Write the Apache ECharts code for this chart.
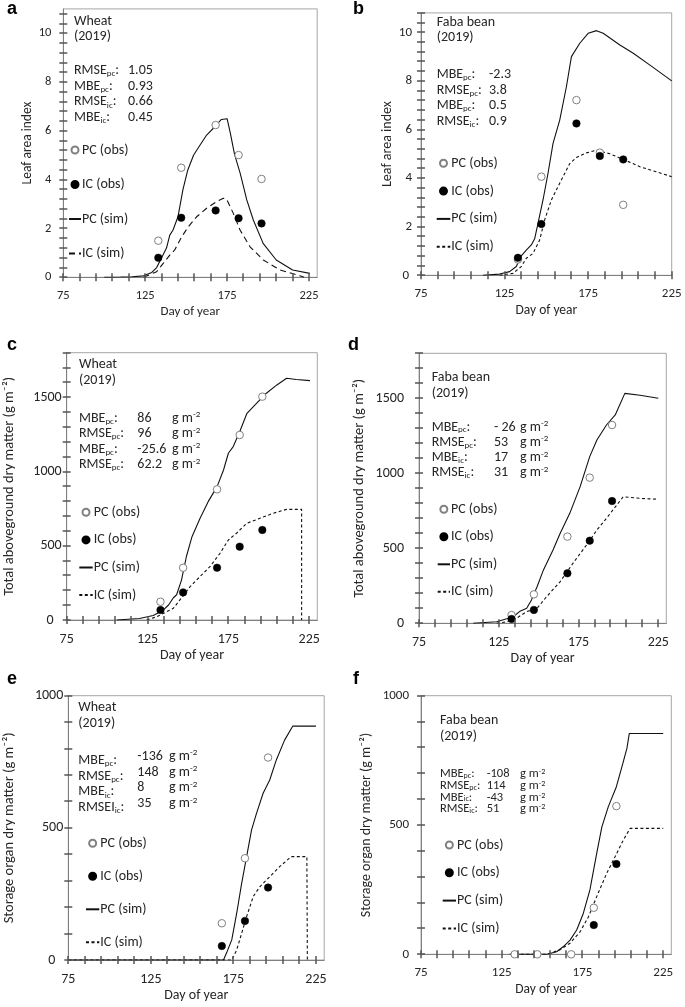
<!DOCTYPE html>
<html>
<head>
<meta charset="utf-8">
<script src="https://cdn.jsdelivr.net/npm/echarts@6/dist/echarts.min.js"></script>
<style>
  html, body { margin: 0; padding: 0; background: #fff; }
  #chart { width: 685px; height: 1007px; }
</style>
</head>
<body>
<div id="chart"></div>
<script>
// sampling days (day of year)
const obsDays = [133, 147, 168, 182, 196];
const lateDays = [168, 182, 196];
const lastDays = [182, 196];

// a - leaf area index, wheat
const laiWheatPcObs = [1.5, 4.49, 6.24, 5.01, 4.03];
const laiWheatIcObs = [0.8, 2.44, 2.74, 2.42, 2.21];
const laiWheatPcSim = [[100, 0], [110, 0.01], [117, 0.02], [124, 0.06], [129, 0.2], [132, 0.4], [135, 0.8], [138, 1.2],
  [140, 1.73], [142, 1.94], [145, 2.48], [148, 3.58], [151, 4.4], [154.5, 5.0], [158.5, 5.42], [162.5, 5.83],
  [167.5, 6.17], [171.5, 6.47], [175, 6.5], [177, 5.9], [179.5, 5.05], [183, 4.26], [187, 3.17], [191, 2.35],
  [197, 1.39], [205, 0.71], [215, 0.3], [225.5, 0.16]];
const laiWheatIcSim = [[124, 0], [132, 0.23], [136, 0.57], [140, 0.91], [143, 1.12], [147.3, 1.66], [151.3, 2.07],
  [156.4, 2.48], [162.5, 2.83], [168.6, 3.1], [172.7, 3.24], [174.7, 3.2], [178.8, 2.62], [182.9, 1.94],
  [189, 1.25], [197.1, 0.71], [207.3, 0.3], [219.5, 0.06], [222, 0]];

// b - leaf area index, faba bean
const laiFabaPcObs = [0.65, 4.06, 7.21, 5.05, 2.9];
const laiFabaIcObs = [0.72, 2.11, 6.25, 4.91, 4.77];
const laiFabaPcSim = [[112, 0], [122, 0.05], [128, 0.15], [132, 0.36], [135, 0.8], [138, 1.04], [141, 1.25], [143, 1.5],
  [145, 2.14], [148, 3.1], [151, 4.2], [154, 5.43], [158, 6.39], [162, 7.76], [165, 9.0], [170, 9.55], [175, 9.96],
  [180, 10.07], [184, 9.96], [194, 9.48], [202, 9.14], [212, 8.65], [225, 8.0]];
const laiFabaIcSim = [[122, 0], [130, 0.08], [135, 0.36], [138, 0.7], [142, 0.9], [146, 1.45], [149, 2.28], [153, 3.1],
  [158, 3.79], [164, 4.6], [168, 4.85], [174, 5.04], [180, 5.15], [188, 5.0], [196, 4.77], [206, 4.47], [225, 4.06]];

// c - total aboveground dry matter, wheat
const tdmWheatPcObs = [123, 352, 880, 1246, 1504];
const tdmWheatIcObs = [67, 186, 352, 494, 606];
const tdmWheatPcSim = [[106, 0], [120, 10], [128.5, 30], [132, 50], [135, 70], [138, 101], [141, 150], [143, 170],
  [146, 269], [149, 426], [152.5, 561], [157.5, 685], [162.5, 797], [168, 898], [172, 1010], [175, 1123], [178, 1168],
  [182, 1268], [186.5, 1392], [191.5, 1448], [198.5, 1527], [205, 1583], [211, 1628], [217, 1620], [225.5, 1612]];
const tdmWheatIcSim = [[124.5, 0], [130.7, 22], [136.8, 56], [141, 79], [145, 135], [151.3, 224], [157.4, 292],
  [163.6, 359], [169.8, 449], [175, 539], [180, 584], [186.3, 651], [194.5, 685], [202.8, 719], [211, 745],
  [220.3, 745], [220.3, 0]];

// d - total aboveground dry matter, faba bean
const tdmFabaPcObs = [55, 193, 578, 971, 1322];
const tdmFabaIcObs = [29, 89, 333, 551, 815];
const tdmFabaPcSim = [[109, 0], [123.7, 10], [130, 30], [134, 44], [138, 78], [142.5, 100], [145.5, 156], [149, 244],
  [153, 356], [159, 489], [163.5, 600], [169.5, 733], [176, 911], [182, 1111], [186.5, 1222], [192.5, 1322],
  [198, 1389], [204, 1533], [213.5, 1520], [225, 1500]];
const tdmFabaIcSim = [[123.7, 0], [130, 10], [136, 33], [142.5, 78], [149, 100], [155, 178], [163.5, 278],
  [171.5, 400], [180, 522], [186.5, 622], [192.5, 700], [203, 844], [213.5, 833], [225, 827]];

// e - storage organ dry matter, wheat
const sodmWheatPcObs = [139, 385, 766];
const sodmWheatIcObs = [53, 148, 274];
const sodmWheatPcSim = [[75, 0], [169, 0], [171, 29], [174, 76], [177, 177], [180, 290], [183, 391], [186, 492],
  [189, 555], [193, 631], [197, 681], [201, 757], [206, 832], [211, 885], [225, 885]];
const sodmWheatIcSim = [[75, 0], [174, 0], [177, 38], [180, 101], [183, 164], [187, 240], [191, 277], [197, 315],
  [203, 353], [210, 391], [219.5, 391], [219.8, 0]];

// f - storage organ dry matter, faba bean
const sodmFabaPcObs = [0, 0, 0, 180, 573];
const sodmFabaIcObs = [113, 349];
const sodmFabaPcSim = [[130, 0], [153, 0], [159, 10], [163, 29], [167.3, 55], [171.4, 94], [175.5, 158], [179.6, 249],
  [183.8, 390], [187, 493], [191, 571], [196, 648], [200, 738], [202.5, 796], [204, 854], [225, 854]];
const sodmFabaIcSim = [[130, 0], [153, 0], [161, 17], [167.3, 43], [173.5, 87], [178.7, 145], [183.8, 223], [190, 313],
  [196.2, 390], [200.3, 442], [204.5, 487], [225, 487]];

// axis labels and tick positions
const xLabels = [75, 125, 175, 225];
const xTicks = [75, 85, 95, 105, 115, 125, 135, 145, 155, 165, 175, 185, 195, 205, 215, 225];
const laiLabels = [0, 2, 4, 6, 8, 10];
const tdmLabels = [0, 500, 1000, 1500];
const sodmLabels = [0, 500, 1000];

const FONT = 'Carlito, Lato, sans-serif';
const TXT = '#262626';
const AXIS = '#808080';
const TICK = '#555555';

function pair(days, vals) { return days.map((d, i) => [d, vals[i]]); }
function steps(max, step) {
  const r = [];
  for (let k = 0; k * step <= max + 1e-9; k++) r.push(Math.round(k * step * 1000) / 1000);
  return r;
}
function lab(name, sub) { return '{t|' + name + '}{s|' + sub + '}{t|:}'; }
function unit() { return '{t|g m}{p|-2}'; }
function richStyle(fs, lh) {
  return {
    t: { fontSize: fs, lineHeight: lh, fontFamily: FONT, color: TXT },
    s: { fontSize: fs * 0.64, lineHeight: fs * 0.55, verticalAlign: 'bottom', fontFamily: FONT, color: TXT },
    p: { fontSize: fs * 0.64, lineHeight: fs * 0.6, verticalAlign: 'top', fontFamily: FONT, color: TXT }
  };
}
function textTop(base, lh, fs) { return base - lh / 2 - 0.33 * fs; }

const panels = [
  {
    letter: 'a', letterPos: [7, 0], grid: { left: 63.3, top: 8.9, width: 253.9, height: 268.4 },
    xMax: 230, yMax: 11, yStep: 0.4, yLabels: laiLabels, yName: 'Leaf area index', yNameGap: 28,
    labelFs: 12.5, nameFs: 13.5, yMargin: 12, zeroPad: 0, dash: [6, 4],
    pcObs: pair(obsDays, laiWheatPcObs), icObs: pair(obsDays, laiWheatIcObs), pcSim: laiWheatPcSim, icSim: laiWheatIcSim,
    crop: { text: 'Wheat', x: 74, base: 25.7, lh: 15 },
    stats: { x: 74, base: 75, lh: 15.8, fs: 14, vx: 128,
      labels: [lab('RMSE', 'pc'), lab('MBE', 'pc'), lab('RMSE', 'ic'), lab('MBE', 'ic')],
      values: ['1.05', '0.93', '0.66', '0.45'] },
    legend: { left: 68, top: 143, gap: 20.5, w: 12 }
  },
  {
    letter: 'b', letterPos: [353, 0], grid: { left: 421, top: 12.9, width: 250.7, height: 262.4 },
    xMax: 225, yMax: 10.8, yStep: 0.4, yLabels: laiLabels, yName: 'Leaf area index', yNameGap: 27,
    labelFs: 13, nameFs: 14, yMargin: 9, zeroPad: 3, dash: [3, 2.5],
    pcObs: pair(obsDays, laiFabaPcObs), icObs: pair(obsDays, laiFabaIcObs), pcSim: laiFabaPcSim, icSim: laiFabaIcSim,
    crop: { text: 'Faba bean', x: 436.7, base: 26.7, lh: 15.6 },
    stats: { x: 436.7, base: 79, lh: 15.7, fs: 14, vx: 489,
      labels: [lab('MBE', 'pc'), lab('RMSE', 'pc'), lab('MBE', 'pc'), lab('RMSE', 'ic')],
      values: ['-2.3', '3.8', '0.5', '0.9'] },
    legend: { left: 435.7, top: 156.3, gap: 13.8, w: 13.6 }
  },
  {
    letter: 'c', letterPos: [7, 336.4], grid: { left: 66.7, top: 352.7, width: 250.6, height: 267.3 },
    xMax: 230, yMax: 1800, yStep: 100, yLabels: tdmLabels, yName: 'Total aboveground dry matter (g m⁻²)', yNameGap: 49.7,
    labelFs: 14, nameFs: 14.5, yMargin: 5, zeroPad: 8, dash: [3, 2.5],
    pcObs: pair(obsDays, tdmWheatPcObs), icObs: pair(obsDays, tdmWheatIcObs), pcSim: tdmWheatPcSim, icSim: tdmWheatIcSim,
    crop: { text: 'Wheat', x: 79, base: 369.3, lh: 15.7 },
    stats: { x: 79, base: 422.7, lh: 15.5, fs: 14, vx: 137.3, ux: 172,
      labels: [lab('MBE', 'pc'), lab('RMSE', 'pc'), lab('MBE', 'pc'), lab('RMSE', 'pc')],
      values: ['86', '96', '-25.6', '62.2'] },
    legend: { left: 78.3, top: 505.3, gap: 13.6, w: 13.4 }
  },
  {
    letter: 'd', letterPos: [348, 336.4], grid: { left: 419, top: 353.3, width: 247.3, height: 270 },
    xMax: 230, yMax: 1800, yStep: 100, yLabels: tdmLabels, yName: 'Total aboveground dry matter (g m⁻²)', yNameGap: 52,
    labelFs: 14, nameFs: 14.5, yMargin: 15, zeroPad: 0, dash: [3, 2.5],
    pcObs: pair(obsDays, tdmFabaPcObs), icObs: pair(obsDays, tdmFabaIcObs), pcSim: tdmFabaPcSim, icSim: tdmFabaIcSim,
    crop: { text: 'Faba bean', x: 431.7, base: 382.3, lh: 16 },
    stats: { x: 431.7, base: 431.7, lh: 15.2, fs: 14, vx: 494, ux: 520,
      labels: [lab('MBE', 'pc'), lab('RMSE', 'pc'), lab('MBE', 'ic'), lab('RMSE', 'ic')],
      values: ['- 26', '53', '17', '31'] },
    legend: { left: 436.7, top: 502.3, gap: 13.5, w: 12.3 }
  },
  {
    letter: 'e', letterPos: [7, 669.7], grid: { left: 68.3, top: 695.7, width: 255.9, height: 264.3 },
    xMax: 230, yMax: 1000, yStep: 100, yLabels: sodmLabels, yName: 'Storage organ dry matter (g m⁻²)', yNameGap: 51.3,
    labelFs: 14, nameFs: 14.5, yMargin: 5, zeroPad: 8, dash: [3, 2.5],
    pcObs: pair(lateDays, sodmWheatPcObs), icObs: pair(lateDays, sodmWheatIcObs), pcSim: sodmWheatPcSim, icSim: sodmWheatIcSim,
    crop: { text: 'Wheat', x: 78.3, base: 711.7, lh: 16.6 },
    stats: { x: 78.3, base: 765, lh: 15.8, fs: 14, vx: 137.3, vbase: 761, ux: 169,
      labels: [lab('MBE', 'pc'), lab('RMSE', 'pc'), lab('MBE', 'ic'), lab('RMSEI', 'ic')],
      values: ['-136', '148', '8', '35'] },
    legend: { left: 85, top: 836.3, gap: 19, w: 13.3 }
  },
  {
    letter: 'f', letterPos: [353, 669.7], grid: { left: 421, top: 695.7, width: 250.3, height: 258.6 },
    xMax: 230, yMax: 1000, yStep: 100, yLabels: sodmLabels, yName: 'Storage organ dry matter (g m⁻²)', yNameGap: 47.3,
    labelFs: 13, nameFs: 14, yMargin: 12, zeroPad: 0, dash: [3, 2.5],
    pcObs: pair(obsDays, sodmFabaPcObs), icObs: pair(lastDays, sodmFabaIcObs), pcSim: sodmFabaPcSim, icSim: sodmFabaIcSim,
    crop: { text: 'Faba bean', x: 440, base: 725, lh: 15.7 },
    stats: { x: 440, base: 778.3, lh: 11.7, fs: 12.5, vx: 486.7, ux: 520,
      labels: [lab('MBE', 'pc'), lab('RMSE', 'pc'), lab('MBE', 'ic'), lab('RMSE', 'ic')],
      values: ['-108', '114', '-43', '51'] },
    legend: { left: 441.7, top: 838, gap: 13.8, w: 13.3 }
  }
];

const option = { animation: false, backgroundColor: '#fff', grid: [], xAxis: [], yAxis: [], series: [], legend: [], title: [] };

panels.forEach((p, i) => {
  option.grid.push(Object.assign({ show: true, borderColor: '#a6a6a6', borderWidth: 1 }, p.grid));

  option.xAxis.push({
    gridIndex: i, type: 'value', min: 75, max: p.xMax, position: 'bottom',
    axisLine: { show: true, lineStyle: { color: AXIS, width: 1 } }, axisTick: { show: false }, splitLine: { show: false },
    name: 'Day of year', nameLocation: 'middle', nameGap: 28,
    nameTextStyle: { fontFamily: FONT, fontSize: p.nameFs - 0.5, color: TXT },
    axisLabel: { customValues: xLabels, margin: 12, fontFamily: FONT, fontSize: p.labelFs, color: TXT }
  });
  option.yAxis.push({
    gridIndex: i, type: 'value', min: 0, max: p.yMax, position: 'left',
    axisLine: { show: true, lineStyle: { color: AXIS, width: 1 } }, axisTick: { show: false }, splitLine: { show: false },
    name: p.yName, nameLocation: 'middle', nameGap: p.yNameGap,
    nameTextStyle: { fontFamily: FONT, fontSize: p.nameFs, color: TXT },
    axisLabel: {
      customValues: p.yLabels, margin: p.yMargin, fontFamily: FONT, fontSize: p.labelFs, color: TXT,
      formatter: v => (v === 0 ? '{z|0}' : String(v)),
      rich: { z: { fontFamily: FONT, fontSize: p.labelFs, color: TXT, padding: [0, p.zeroPad, 0, 0] } }
    }
  });

  const ax = { xAxisIndex: i, yAxisIndex: i };
  const tag = '#' + p.letter;

  option.series.push(Object.assign({
    name: 'PC (sim)' + tag, type: 'line', data: p.pcSim, symbol: 'none', z: 2,
    itemStyle: { color: '#111' }, lineStyle: { color: '#111', width: 1.1, type: 'solid' }
  }, ax));
  option.series.push(Object.assign({
    name: 'IC (sim)' + tag, type: 'line', data: p.icSim, symbol: 'none', z: 2,
    itemStyle: { color: '#111' }, lineStyle: { color: '#111', width: 1.1, type: p.dash }
  }, ax));
  option.series.push(Object.assign({
    name: 'PC (obs)' + tag, type: 'scatter', data: p.pcObs, symbol: 'circle', symbolSize: 7.5, z: 4,
    itemStyle: { color: '#fff', borderColor: '#808080', borderWidth: 1, opacity: 1 }
  }, ax));
  option.series.push(Object.assign({
    name: 'IC (obs)' + tag, type: 'scatter', data: p.icObs, symbol: 'circle', symbolSize: 7.5, z: 5,
    itemStyle: { color: '#000', borderColor: '#000', borderWidth: 0.5, opacity: 1 }
  }, ax));

  const hideDot = { opacity: 0 };
  option.legend.push({
    data: [
      { name: 'PC (obs)' + tag },
      { name: 'IC (obs)' + tag },
      { name: 'PC (sim)' + tag, itemStyle: hideDot },
      { name: 'IC (sim)' + tag, itemStyle: hideDot }
    ],
    orient: 'vertical', left: p.legend.left, top: p.legend.top, padding: 0,
    itemGap: p.legend.gap, itemWidth: p.legend.w, itemHeight: 7, selectedMode: false,
    formatter: n => n.split('#')[0],
    textStyle: { fontFamily: FONT, fontSize: 14, lineHeight: 14, color: TXT, padding: [0, 0, 0, -4] }
  });

  // panel letter
  option.title.push({
    text: p.letter, left: p.letterPos[0], top: p.letterPos[1], padding: 0,
    textStyle: { fontFamily: 'Liberation Sans, Arial, sans-serif', fontWeight: 'bold', fontSize: 18, lineHeight: 18, color: '#000' }
  });
  // crop and year
  option.title.push({
    text: p.crop.text + '\n(2019)', left: p.crop.x, top: textTop(p.crop.base, p.crop.lh, 14), padding: 0,
    textStyle: { fontFamily: FONT, fontWeight: 'normal', fontSize: 14, lineHeight: p.crop.lh, color: TXT }
  });
  // statistics block
  const s = p.stats;
  const rich = richStyle(s.fs, s.lh);
  const tStyle = { fontFamily: FONT, fontWeight: 'normal', fontSize: s.fs, lineHeight: s.lh, color: TXT, rich: rich };
  option.title.push({ text: s.labels.join('\n'), left: s.x, top: textTop(s.base, s.lh, s.fs), padding: 0, textStyle: tStyle });
  option.title.push({
    text: s.values.map(v => '{t|' + v + '}').join('\n'), left: s.vx,
    top: textTop(s.vbase || s.base, s.lh, s.fs), padding: 0, textStyle: tStyle
  });
  if (s.ux) {
    option.title.push({
      text: s.values.map(unit).join('\n'), left: s.ux,
      top: textTop(s.vbase || s.base, s.lh, s.fs), padding: 0, textStyle: tStyle
    });
  }
});

const chart = echarts.init(document.getElementById('chart'), null, { renderer: 'canvas' });
chart.setOption(option);

// pixel position of a value pair on panel i, via the axes; falls back to the
// grid's linear mapping if the conversion is not available
function toPixel(i, d, v) {
  let pt = null;
  try { pt = chart.convertToPixel({ xAxisIndex: i, yAxisIndex: i }, [d, v]); } catch (e) { pt = null; }
  if (!pt || !isFinite(pt[0]) || !isFinite(pt[1])) {
    const p = panels[i], g = p.grid;
    pt = [g.left + (d - 75) / (p.xMax - 75) * g.width, g.top + g.height - v / p.yMax * g.height];
  }
  return pt;
}

// tick marks crossing the axes: every 10 days on x, every minor unit on y
const ticks = [];
function tickLine(x1, y1, x2, y2) {
  return { type: 'line', silent: true, z: 100, shape: { x1: x1, y1: y1, x2: x2, y2: y2 }, style: { stroke: TICK, lineWidth: 1.5 } };
}
panels.forEach((p, i) => {
  xTicks.forEach(d => {
    const pt = toPixel(i, d, 0);
    const x = Math.round(pt[0]);
    ticks.push(tickLine(x, pt[1] - 4, x, pt[1] + 4));
  });
  steps(p.yMax, p.yStep).forEach(v => {
    const pt = toPixel(i, 75, v);
    const y = Math.round(pt[1]);
    ticks.push(tickLine(pt[0] - 4, y, pt[0] + 4, y));
  });
});
chart.setOption({ graphic: ticks });
</script>
</body>
</html>
